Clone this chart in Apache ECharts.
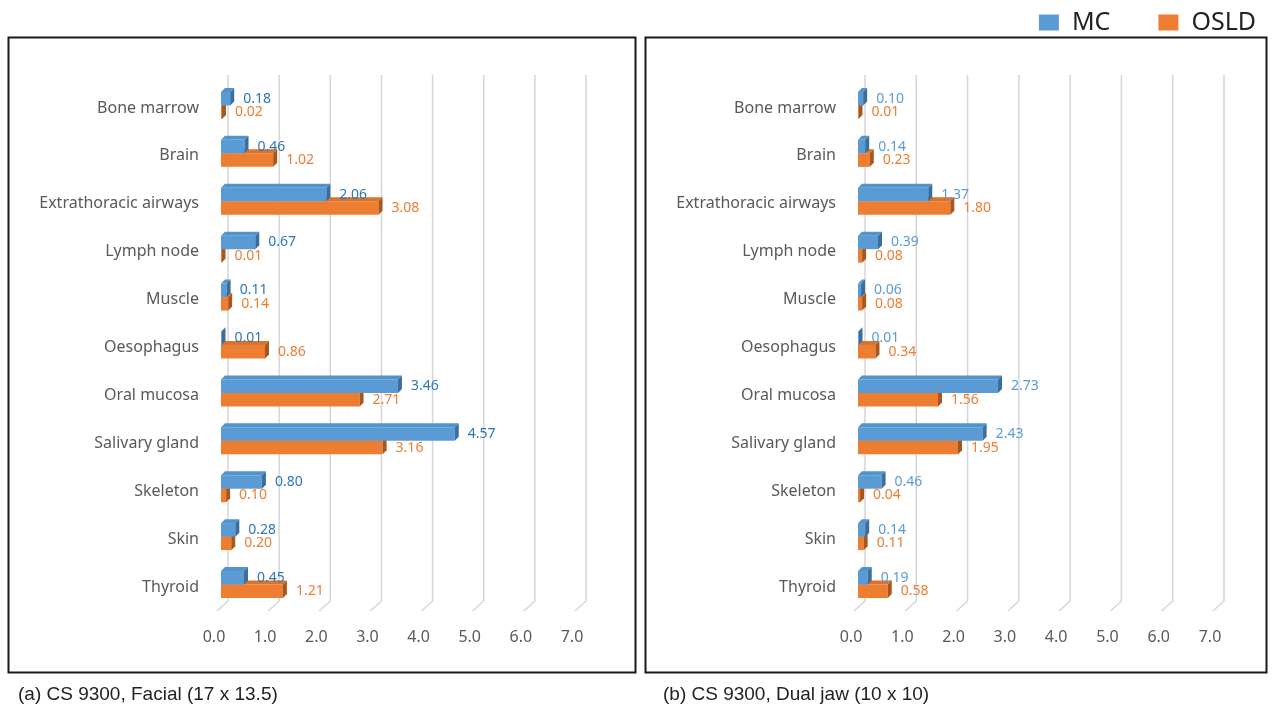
<!DOCTYPE html>
<html>
<head>
<meta charset="utf-8">
<script src="https://cdn.jsdelivr.net/npm/echarts@6/dist/echarts.min.js"></script>
<style>
  html, body { margin: 0; padding: 0; background: #fff; }
  #main { width: 1273px; height: 717px; }
</style>
</head>
<body>
<div id="main"></div>
<script>
// organs (top to bottom)
var organs = ['Bone marrow', 'Brain', 'Extrathoracic airways', 'Lymph node', 'Muscle',
  'Oesophagus', 'Oral mucosa', 'Salivary gland', 'Skeleton', 'Skin', 'Thyroid'];
// (a) CS 9300, Facial
var facialMC   = [0.18, 0.46, 2.06, 0.67, 0.11, 0.01, 3.46, 4.57, 0.80, 0.28, 0.45];
var facialOSLD = [0.02, 1.02, 3.08, 0.01, 0.14, 0.86, 2.71, 3.16, 0.10, 0.20, 1.21];
// (b) CS 9300, Dual jaw
var dualMC   = [0.10, 0.14, 1.37, 0.39, 0.06, 0.01, 2.73, 2.43, 0.46, 0.14, 0.19];
var dualOSLD = [0.01, 0.23, 1.80, 0.08, 0.08, 0.34, 1.56, 1.95, 0.04, 0.11, 0.58];
var xTicks = [0, 1, 2, 3, 4, 5, 6, 7];
var captions = ['(a) CS 9300, Facial (17 x 13.5)', '(b) CS 9300, Dual jaw (10 x 10)'];

var BLUE = '#5B9BD5', ORANGE = '#ED7D31';
var FONT = '"Noto Sans", "Open Sans", sans-serif';

function toData(arr) {
  return arr.map(function (v, i) { return [v, i]; });
}

// 3d-ish bar: front face + top face + right side face + value label
function bar3d(front, top, side, labelColor, upper) {
  return function (params, api) {
    var val = api.value(0), cat = api.value(1);
    var p0 = api.coord([0, cat]);
    var p1 = api.coord([val, cat]);
    var h = 13.5, d = 4;
    var c = p0[1] - 2.5;
    var y0 = upper ? c - h : c;
    var x0 = p0[0], x1 = p1[0];
    return {
      type: 'group',
      children: [
        { type: 'rect', shape: { x: x0, y: y0, width: x1 - x0, height: h }, style: { fill: front } },
        { type: 'polygon', shape: { points: [[x0, y0], [x0 + d, y0 - d], [x1 + d, y0 - d], [x1, y0]] }, style: { fill: top } },
        { type: 'polygon', shape: { points: [[x1, y0], [x1 + d, y0 - d], [x1 + d, y0 + h - d], [x1, y0 + h]] }, style: { fill: side } },
        { type: 'text', style: { text: val.toFixed(2), x: x1 + d + 9, y: y0 + h / 2,
          verticalAlign: 'middle', fill: labelColor, fontSize: 14, fontFamily: FONT } }
      ]
    };
  };
}

// back-wall grid lines with a short floor edge
function gridLines(params, api) {
  var p = api.coord([api.value(0), 0]);
  var cs = params.coordSys;
  var bottom = cs.y + cs.height;
  return {
    type: 'polyline',
    shape: { points: [[p[0] + 7, cs.y - 9], [p[0] + 7, bottom - 10], [p[0] - 4, bottom]] },
    style: { stroke: '#D6D6D6', lineWidth: 1.5, fill: null }
  };
}

function xAxisCfg(idx) {
  return {
    type: 'value', gridIndex: idx, min: 0, max: 7, interval: 1,
    splitLine: { show: false }, axisLine: { show: false }, axisTick: { show: false },
    axisLabel: { color: '#595959', fontSize: 16, fontFamily: FONT, margin: 18,
      padding: [0, 14, 0, 0], formatter: function (v) { return v.toFixed(1); } }
  };
}
function yAxisCfg(idx) {
  return {
    type: 'category', gridIndex: idx, data: organs, inverse: true,
    axisLine: { show: false }, axisTick: { show: false },
    axisLabel: { color: '#595959', fontSize: 16, fontFamily: FONT, margin: 22 }
  };
}

var chart = echarts.init(document.getElementById('main'));
chart.setOption({
  animation: false,
  legend: {
    data: ['MC', 'OSLD'], right: 12, top: 5, orient: 'horizontal',
    icon: 'rect', itemWidth: 20, itemHeight: 16, itemGap: 48,
    textStyle: { color: '#222', fontSize: 25, fontFamily: FONT, padding: [0, 0, 0, 8] }
  },
  grid: [
    { left: 221, width: 358, top: 84, height: 527 },
    { left: 858, width: 359, top: 84, height: 527 }
  ],
  xAxis: [xAxisCfg(0), xAxisCfg(1)],
  yAxis: [yAxisCfg(0), yAxisCfg(1)],
  graphic: [
    { type: 'rect', shape: { x: 8.5, y: 37.5, width: 627, height: 635 }, style: { fill: null, stroke: '#1a1a1a', lineWidth: 2 } },
    { type: 'rect', shape: { x: 645.5, y: 37.5, width: 621, height: 635 }, style: { fill: null, stroke: '#1a1a1a', lineWidth: 2 } },
    { type: 'text', left: 18, top: 685, style: { text: captions[0], fill: '#222', fontSize: 19, fontFamily: '"Liberation Sans", Arial, sans-serif' } },
    { type: 'text', left: 663, top: 685, style: { text: captions[1], fill: '#222', fontSize: 19, fontFamily: '"Liberation Sans", Arial, sans-serif' } }
  ],
  series: [
    { type: 'custom', xAxisIndex: 0, yAxisIndex: 0, data: xTicks.map(function (v) { return [v, 0]; }), renderItem: gridLines, z: 1, silent: true, clip: false },
    { type: 'custom', xAxisIndex: 1, yAxisIndex: 1, data: xTicks.map(function (v) { return [v, 0]; }), renderItem: gridLines, z: 1, silent: true, clip: false },
    { name: 'MC', type: 'custom', xAxisIndex: 0, yAxisIndex: 0, itemStyle: { color: BLUE }, clip: false, z: 3,
      data: toData(facialMC), renderItem: bar3d(BLUE, '#5393CD', '#3A6E9F', '#2E75B6', true) },
    { name: 'OSLD', type: 'custom', xAxisIndex: 0, yAxisIndex: 0, itemStyle: { color: ORANGE }, clip: false, z: 2,
      data: toData(facialOSLD), renderItem: bar3d(ORANGE, '#DB722B', '#A9561D', ORANGE, false) },
    { name: 'MC', type: 'custom', xAxisIndex: 1, yAxisIndex: 1, itemStyle: { color: BLUE }, clip: false, z: 3,
      data: toData(dualMC), renderItem: bar3d(BLUE, '#5393CD', '#3A6E9F', BLUE, true) },
    { name: 'OSLD', type: 'custom', xAxisIndex: 1, yAxisIndex: 1, itemStyle: { color: ORANGE }, clip: false, z: 2,
      data: toData(dualOSLD), renderItem: bar3d(ORANGE, '#DB722B', '#A9561D', ORANGE, false) }
  ]
});
</script>
</body>
</html>
